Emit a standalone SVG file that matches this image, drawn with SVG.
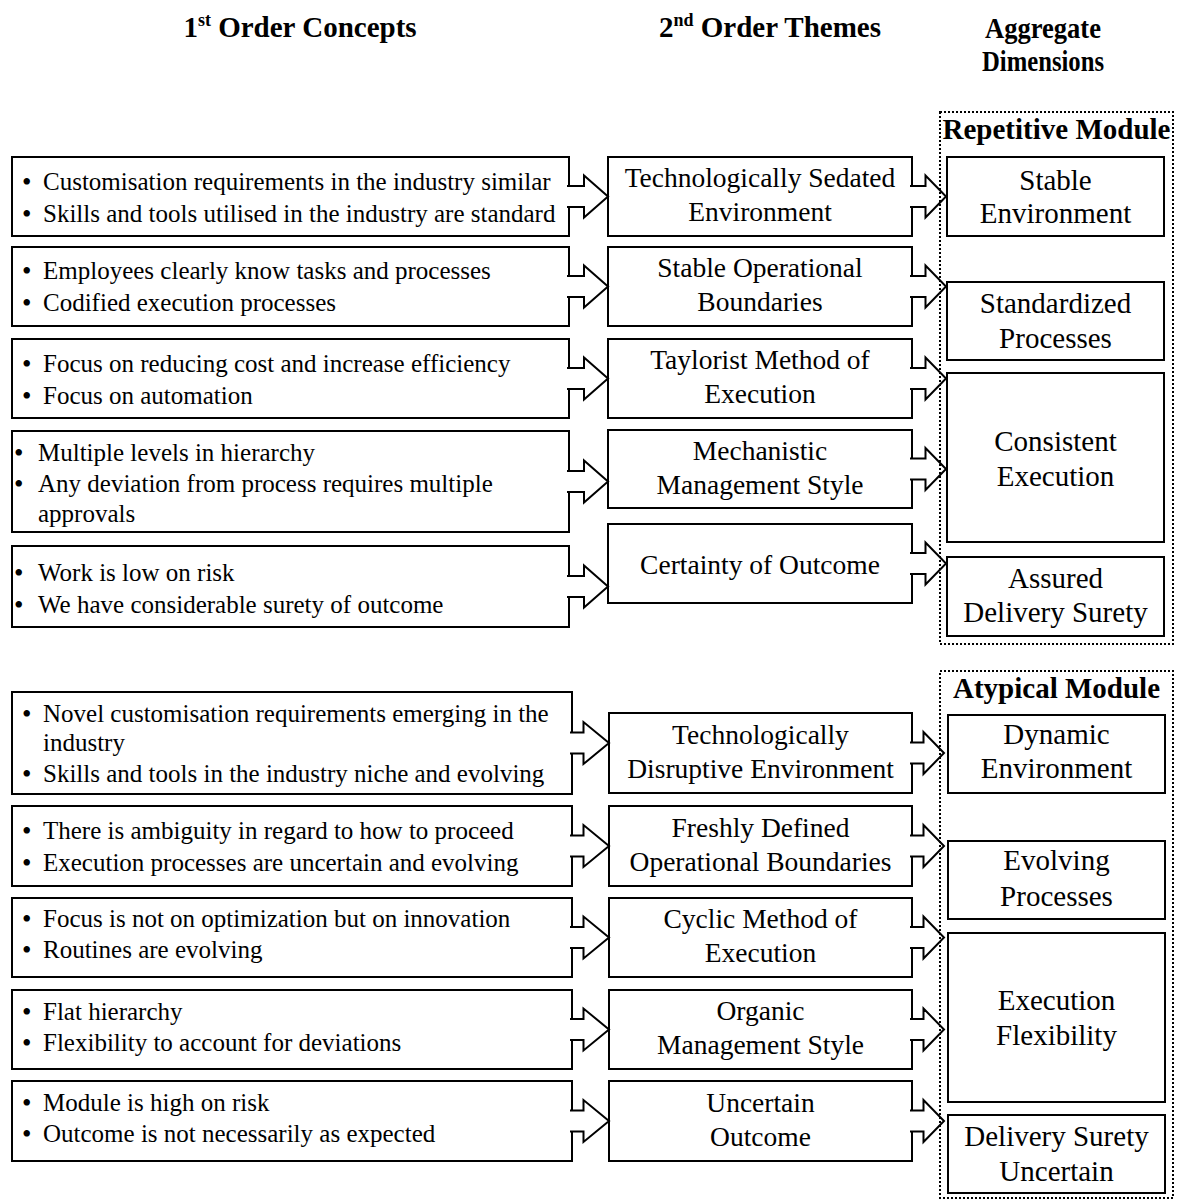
<svg xmlns="http://www.w3.org/2000/svg" width="1185" height="1200" viewBox="0 0 1185 1200">
<style>
text{font-family:"Liberation Serif","Times New Roman",serif;fill:#000}
.h{font-size:29px;font-weight:bold;text-anchor:middle}
.c1{font-size:25px}
.b{font-size:27px}
.c2{font-size:27.5px;text-anchor:middle}
.c3{font-size:29px;text-anchor:middle}
.box{fill:#fff;stroke:#000;stroke-width:2}
.frame{fill:none;stroke:#000;stroke-width:2;stroke-dasharray:2 2}
.arr{fill:#fff;stroke:#000;stroke-width:2;stroke-linejoin:miter}
</style>
<rect width="1185" height="1200" fill="#fff"/>
<g id="headers">
<text class="h" x="300" y="37">1<tspan font-size="18" dy="-11">st</tspan><tspan dy="11"> Order Concepts</tspan></text>
<text class="h" x="770" y="37">2<tspan font-size="18" dy="-11">nd</tspan><tspan dy="11"> Order Themes</tspan></text>
<text class="h" x="1043" y="38" textLength="116" lengthAdjust="spacingAndGlyphs">Aggregate</text>
<text class="h" x="1043" y="71" textLength="122" lengthAdjust="spacingAndGlyphs">Dimensions</text>
</g>
<g id="col1-top">
<g id="r1"><rect class="box" x="12" y="157" width="557" height="79"/><text class="c1" y="190"><tspan class="b" x="22" dy="1">•</tspan><tspan x="43" dy="-1">Customisation requirements in the industry similar</tspan></text><text class="c1" y="222"><tspan class="b" x="22" dy="1">•</tspan><tspan x="43" dy="-1">Skills and tools utilised in the industry are standard</tspan></text></g>
<g id="r2"><rect class="box" x="12" y="247" width="557" height="79"/><text class="c1" y="279"><tspan class="b" x="22" dy="1">•</tspan><tspan x="43" dy="-1">Employees clearly know tasks and processes</tspan></text><text class="c1" y="311"><tspan class="b" x="22" dy="1">•</tspan><tspan x="43" dy="-1">Codified execution processes</tspan></text></g>
<g id="r3"><rect class="box" x="12" y="339" width="557" height="79"/><text class="c1" y="372"><tspan class="b" x="22" dy="1">•</tspan><tspan x="43" dy="-1">Focus on reducing cost and increase efficiency</tspan></text><text class="c1" y="404"><tspan class="b" x="22" dy="1">•</tspan><tspan x="43" dy="-1">Focus on automation</tspan></text></g>
<g id="r4"><rect class="box" x="12" y="431" width="557" height="101"/><text class="c1" y="461"><tspan class="b" x="14" dy="1">•</tspan><tspan x="38" dy="-1">Multiple levels in hierarchy</tspan></text><text class="c1" y="492"><tspan class="b" x="14" dy="1">•</tspan><tspan x="38" dy="-1">Any deviation from process requires multiple</tspan></text><text class="c1" x="38" y="522">approvals</text></g>
<g id="r5"><rect class="box" x="12" y="546" width="557" height="81"/><text class="c1" y="581"><tspan class="b" x="14" dy="1">•</tspan><tspan x="38" dy="-1">Work is low on risk</tspan></text><text class="c1" y="613"><tspan class="b" x="14" dy="1">•</tspan><tspan x="38" dy="-1">We have considerable surety of outcome</tspan></text></g>
</g>
<g id="col2-top">
<g id="c1"><rect class="box" x="608" y="157" width="304" height="79"/><text class="c2" x="760" y="187">Technologically Sedated</text><text class="c2" x="760" y="221">Environment</text></g>
<g id="c2"><rect class="box" x="608" y="247" width="304" height="79"/><text class="c2" x="760" y="277">Stable Operational</text><text class="c2" x="760" y="311">Boundaries</text></g>
<g id="c3"><rect class="box" x="608" y="339" width="304" height="79"/><text class="c2" x="760" y="369">Taylorist Method of</text><text class="c2" x="760" y="403">Execution</text></g>
<g id="c4"><rect class="box" x="608" y="430" width="304" height="78"/><text class="c2" x="760" y="459.5">Mechanistic</text><text class="c2" x="760" y="493.5">Management Style</text></g>
<g id="c5"><rect class="box" x="608" y="524" width="304" height="79"/><text class="c2" x="760" y="573.5">Certainty of Outcome</text></g>
</g>
<g id="col3-top">
<g id="d1"><rect class="box" x="947" y="157" width="217" height="79"/><text class="c3" x="1055.5" y="190">Stable</text><text class="c3" x="1055.5" y="223">Environment</text></g>
<g id="d2"><rect class="box" x="947" y="282" width="217" height="78"/><text class="c3" x="1055.5" y="313">Standardized</text><text class="c3" x="1055.5" y="348">Processes</text></g>
<g id="d3"><rect class="box" x="947" y="373" width="217" height="169"/><text class="c3" x="1055.5" y="451">Consistent</text><text class="c3" x="1055.5" y="486">Execution</text></g>
<g id="d4"><rect class="box" x="947" y="557" width="217" height="79"/><text class="c3" x="1055.5" y="588">Assured</text><text class="c3" x="1055.5" y="622">Delivery Surety</text></g>
</g>
<g id="col1-bottom">
<g id="s1"><rect class="box" x="12" y="692" width="560" height="102"/><text class="c1" y="722"><tspan class="b" x="22" dy="1">•</tspan><tspan x="43" dy="-1">Novel customisation requirements emerging in the</tspan></text><text class="c1" x="43" y="751">industry</text><text class="c1" y="782"><tspan class="b" x="22" dy="1">•</tspan><tspan x="43" dy="-1">Skills and tools in the industry niche and evolving</tspan></text></g>
<g id="s2"><rect class="box" x="12" y="806" width="560" height="80"/><text class="c1" y="839"><tspan class="b" x="22" dy="1">•</tspan><tspan x="43" dy="-1">There is ambiguity in regard to how to proceed</tspan></text><text class="c1" y="871"><tspan class="b" x="22" dy="1">•</tspan><tspan x="43" dy="-1">Execution processes are uncertain and evolving</tspan></text></g>
<g id="s3"><rect class="box" x="12" y="898" width="560" height="79"/><text class="c1" y="927"><tspan class="b" x="22" dy="1">•</tspan><tspan x="43" dy="-1">Focus is not on optimization but on innovation</tspan></text><text class="c1" y="958"><tspan class="b" x="22" dy="1">•</tspan><tspan x="43" dy="-1">Routines are evolving</tspan></text></g>
<g id="s4"><rect class="box" x="12" y="990" width="560" height="79"/><text class="c1" y="1020"><tspan class="b" x="22" dy="1">•</tspan><tspan x="43" dy="-1">Flat hierarchy</tspan></text><text class="c1" y="1051"><tspan class="b" x="22" dy="1">•</tspan><tspan x="43" dy="-1">Flexibility to account for deviations</tspan></text></g>
<g id="s5"><rect class="box" x="12" y="1081" width="560" height="80"/><text class="c1" y="1111"><tspan class="b" x="22" dy="1">•</tspan><tspan x="43" dy="-1">Module is high on risk</tspan></text><text class="c1" y="1142"><tspan class="b" x="22" dy="1">•</tspan><tspan x="43" dy="-1">Outcome is not necessarily as expected</tspan></text></g>
</g>
<g id="col2-bottom">
<g id="t1"><rect class="box" x="609" y="713" width="303" height="80"/><text class="c2" x="760.5" y="743.5">Technologically</text><text class="c2" x="760.5" y="777.5">Disruptive Environment</text></g>
<g id="t2"><rect class="box" x="609" y="806" width="303" height="80"/><text class="c2" x="760.5" y="836.5">Freshly Defined</text><text class="c2" x="760.5" y="870.5">Operational Boundaries</text></g>
<g id="t3"><rect class="box" x="609" y="898" width="303" height="79"/><text class="c2" x="760.5" y="928">Cyclic Method of</text><text class="c2" x="760.5" y="962">Execution</text></g>
<g id="t4"><rect class="box" x="609" y="990" width="303" height="79"/><text class="c2" x="760.5" y="1020">Organic</text><text class="c2" x="760.5" y="1054">Management Style</text></g>
<g id="t5"><rect class="box" x="609" y="1081" width="303" height="80"/><text class="c2" x="760.5" y="1111.5">Uncertain</text><text class="c2" x="760.5" y="1145.5">Outcome</text></g>
</g>
<g id="col3-bottom">
<g id="e1"><rect class="box" x="948" y="715" width="217" height="78"/><text class="c3" x="1056.5" y="744">Dynamic</text><text class="c3" x="1056.5" y="778">Environment</text></g>
<g id="e2"><rect class="box" x="948" y="841" width="217" height="78"/><text class="c3" x="1056.5" y="870">Evolving</text><text class="c3" x="1056.5" y="906">Processes</text></g>
<g id="e3"><rect class="box" x="948" y="933" width="217" height="169"/><text class="c3" x="1056.5" y="1010">Execution</text><text class="c3" x="1056.5" y="1045">Flexibility</text></g>
<g id="e4"><rect class="box" x="948" y="1115" width="217" height="78"/><text class="c3" x="1056.5" y="1146">Delivery Surety</text><text class="c3" x="1056.5" y="1181">Uncertain</text></g>
</g>
<g id="connectors">
<path class="arr" d="M567,186 H584 V175.5 L608,196.5 L584,217.5 V207 H567"/>
<path class="arr" d="M567,276 H584 V265.5 L608,286.5 L584,307.5 V297 H567"/>
<path class="arr" d="M567,368 H584 V357.5 L608,378.5 L584,399.5 V389 H567"/>
<path class="arr" d="M567,471 H584 V460.5 L608,481.5 L584,502.5 V492 H567"/>
<path class="arr" d="M567,576 H584 V565.5 L608,586.5 L584,607.5 V597 H567"/>
<path class="arr" d="M910,186 H925.5 V175.5 L946,196.5 L925.5,217.5 V207 H910"/>
<path class="arr" d="M910,276 H925.5 V265.5 L946,286.5 L925.5,307.5 V297 H910"/>
<path class="arr" d="M910,368 H925.5 V357.5 L946,378.5 L925.5,399.5 V389 H910"/>
<path class="arr" d="M910,458.5 H925.5 V448 L946,469 L925.5,490 V479.5 H910"/>
<path class="arr" d="M910,553 H925.5 V542.5 L946,563.5 L925.5,584.5 V574 H910"/>
<path class="arr" d="M570,732.5 H583.5 V722 L609,743 L583.5,764 V753.5 H570"/>
<path class="arr" d="M570,835.5 H583.5 V825 L609,846 L583.5,867 V856.5 H570"/>
<path class="arr" d="M570,927 H583.5 V916.5 L609,937.5 L583.5,958.5 V948 H570"/>
<path class="arr" d="M570,1019 H583.5 V1008.5 L609,1029.5 L583.5,1050.5 V1040 H570"/>
<path class="arr" d="M570,1110.5 H583.5 V1100 L609,1121 L583.5,1142 V1131.5 H570"/>
<path class="arr" d="M910,742.5 H923.5 V732 L944,753 L923.5,774 V763.5 H910"/>
<path class="arr" d="M910,835.5 H923.5 V825 L944,846 L923.5,867 V856.5 H910"/>
<path class="arr" d="M910,927 H923.5 V916.5 L944,937.5 L923.5,958.5 V948 H910"/>
<path class="arr" d="M910,1019 H923.5 V1008.5 L944,1029.5 L923.5,1050.5 V1040 H910"/>
<path class="arr" d="M910,1110.5 H923.5 V1100 L944,1121 L923.5,1142 V1131.5 H910"/>
</g>
<g id="repetitive-module">
<rect class="frame" x="940" y="112" width="233" height="532"/>
<text class="h" x="1056.5" y="139">Repetitive Module</text>
</g>
<g id="atypical-module">
<rect class="frame" x="940" y="671" width="233" height="527"/>
<text class="h" x="1056.5" y="698">Atypical Module</text>
</g>
</svg>
